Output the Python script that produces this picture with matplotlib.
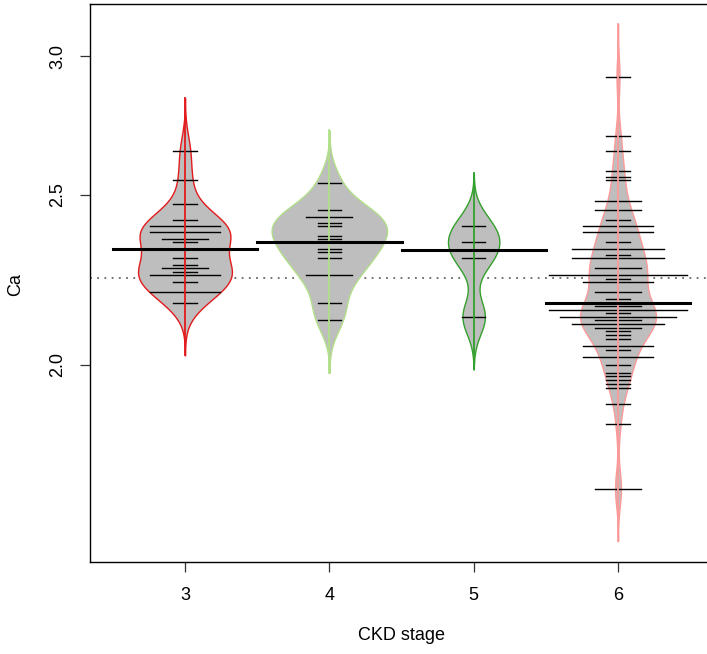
import numpy as np
import matplotlib
matplotlib.use("Agg")
import matplotlib.pyplot as plt

plt.rcParams['font.family'] = ['Liberation Sans', 'DejaVu Sans']

# ---- data ----
stages = ["3", "4", "5", "6"]
ca_stage3 = [2.65, 2.55, 2.47, 2.42, 2.40, 2.40, 2.40, 2.38, 2.38, 2.38, 2.36, 2.36,
             2.35, 2.30, 2.28, 2.27, 2.27, 2.26, 2.25, 2.25, 2.25, 2.23, 2.20, 2.20,
             2.20, 2.17]
ca_stage4 = [2.54, 2.45, 2.43, 2.43, 2.41, 2.40, 2.37, 2.36, 2.33, 2.32, 2.30,
             2.25, 2.25, 2.17, 2.12]
ca_stage5 = [2.40, 2.35, 2.30, 2.13]
ca_stage6 = [2.92, 2.70, 2.65, 2.58, 2.56, 2.55, 2.48, 2.48, 2.45, 2.45, 2.42,
             2.40, 2.40, 2.40, 2.38, 2.38, 2.38, 2.35, 2.33, 2.33, 2.33, 2.33,
             2.31, 2.30, 2.30, 2.30, 2.30, 2.27, 2.27,
             2.25, 2.25, 2.25, 2.25, 2.25, 2.25, 2.24, 2.23, 2.23, 2.23,
             2.20, 2.20, 2.18, 2.16, 2.16, 2.15, 2.15, 2.15, 2.15, 2.15, 2.15,
             2.14, 2.13, 2.13, 2.13, 2.13, 2.13, 2.12, 2.12, 2.11, 2.11, 2.11, 2.11,
             2.10, 2.10, 2.09, 2.08, 2.07, 2.05, 2.05, 2.05, 2.04, 2.02, 2.02, 2.02,
             2.00, 1.98, 1.97, 1.96, 1.95, 1.94, 1.90, 1.85, 1.70, 1.70]
groups = [ca_stage3, ca_stage4, ca_stage5, ca_stage6]
bean_means = [2.33, 2.35, 2.325, 2.17]
overall_mean = 2.242

# ---- style ----
border_colors = ["#E31A1C", "#B2DF8A", "#33A02C", "#FB9A99"]
max_half_width = [0.325, 0.40, 0.178, 0.263]
bw = 0.023          # bandwidth in log space
cut = 3.0
line_unit = 0.08    # half length of one beanline per observation

W, H = 707, 654
fig = plt.figure(figsize=(W / 100, H / 100), dpi=100)
ax = fig.add_axes([90 / W, (H - 562) / H, (713 - 90) / W, (562 - 4) / H])
ax.set_yscale('log')

for i, vals in enumerate(groups):
    x0 = i + 1
    v = np.array(vals, dtype=float)
    lv = np.log(v)
    grid = np.linspace(lv.min() - cut * bw, lv.max() + cut * bw, 400)
    dens = np.exp(-0.5 * ((grid[:, None] - lv[None, :]) / bw) ** 2).sum(axis=1)
    dens = dens / dens.max() * max_half_width[i]
    yy = np.exp(grid)
    ax.fill_betweenx(yy, x0 - dens, x0 + dens, facecolor="#BEBEBE",
                     edgecolor=border_colors[i], linewidth=1.0, zorder=2)
    # beanlines
    uniq, counts = np.unique(v, return_counts=True)
    for u, c in zip(uniq, counts):
        ax.plot([x0 - line_unit * c, x0 + line_unit * c], [u, u],
                color="black", linewidth=1.0, zorder=3)
    # center line
    ax.plot([x0, x0], [yy[0], yy[-1]], color=border_colors[i], linewidth=1.3, zorder=4)
    # bean average line
    ax.plot([x0 - 0.5, x0 + 0.5], [bean_means[i], bean_means[i]],
            color="black", linewidth=2.2, zorder=5)

ax.axhline(overall_mean, color="#666666", linestyle=(0, (1, 3)), linewidth=1.3, zorder=1)

ax.set_xlim(0.342, 4.658)
ax.set_ylim(1.544, 3.212)
ax.set_xticks([1, 2, 3, 4])
ax.set_xticklabels(stages)
ax.set_yticks([2.0, 2.5, 3.0])
ax.set_yticklabels(["2.0", "2.5", "3.0"], rotation=90, va="center")
ax.yaxis.set_minor_locator(matplotlib.ticker.NullLocator())
ax.tick_params(axis='both', length=7.2, width=0.9, labelsize=13, pad=10, color="#333333")
ax.tick_params(axis='x', pad=11)

for s in ax.spines.values():
    s.set_linewidth(1.0)

ax.set_xlabel("CKD stage", fontsize=13)
ax.set_ylabel("Ca", fontsize=13)
ax.xaxis.set_label_coords(0.5, (562 - 636) / 558)
ax.xaxis.label.set_va("center")
ax.yaxis.set_label_coords((16 - 90) / 623, (562 - 285) / 558)
ax.yaxis.label.set_va("center")

fig.savefig("out.png", dpi=100)
